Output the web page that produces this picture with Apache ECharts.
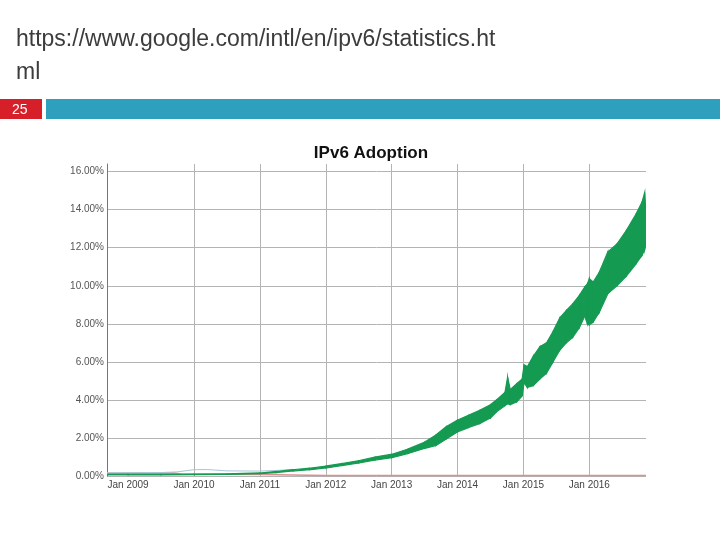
<!DOCTYPE html>
<html>
<head>
<meta charset="utf-8">
<script src="https://cdn.jsdelivr.net/npm/echarts@6/dist/echarts.min.js"></script>
<style>
html,body{margin:0;padding:0;background:#fff;}
#chart{width:720px;height:540px;}
</style>
</head>
<body>
<div id="chart"></div>
<script>
// ---- data (decimal years, percent) ----
var nativeYears = [2008.68, 2009.00, 2009.50, 2010.00, 2010.50, 2011.00, 2011.25, 2011.50, 2011.75, 2012.00,
  2012.25, 2012.50, 2012.75, 2013.00, 2013.25, 2013.50, 2013.67, 2013.83, 2014.00, 2014.17,
  2014.34, 2014.50, 2014.59, 2014.72, 2014.76, 2014.80, 2014.90, 2014.98, 2015.01, 2015.06,
  2015.15, 2015.25, 2015.35, 2015.45, 2015.55, 2015.65, 2015.75, 2015.85, 2015.93, 2015.97,
  2016.00, 2016.06, 2016.15, 2016.28, 2016.42, 2016.56, 2016.71, 2016.80, 2016.84, 2016.86];
var nativeLow = [0.06, 0.06, 0.06, 0.07, 0.08, 0.12, 0.18, 0.26, 0.33, 0.42,
  0.55, 0.68, 0.84, 0.96, 1.18, 1.45, 1.60, 1.95, 2.32, 2.55,
  2.76, 3.05, 3.37, 3.70, 3.80, 3.75, 3.90, 4.20, 4.90, 4.65,
  4.75, 5.10, 5.40, 6.00, 6.60, 7.00, 7.30, 7.80, 8.40, 8.00,
  7.95, 8.10, 8.60, 9.58, 10.00, 10.50, 11.16, 11.60, 11.90, 12.20];
var nativeHigh = [0.09, 0.09, 0.09, 0.10, 0.11, 0.16, 0.24, 0.33, 0.41, 0.52,
  0.66, 0.80, 1.00, 1.14, 1.42, 1.78, 2.15, 2.60, 2.94, 3.20,
  3.46, 3.75, 3.99, 4.40, 5.20, 4.55, 4.86, 5.10, 5.85, 5.75,
  6.30, 6.80, 7.00, 7.60, 8.30, 8.70, 9.06, 9.50, 9.93, 10.10,
  10.37, 10.20, 10.70, 11.77, 12.20, 12.90, 13.78, 14.40, 14.90, 13.80];

var totalYears = [2008.68, 2009.50, 2009.75, 2010.00, 2010.20, 2010.50, 2011.00, 2011.30, 2011.50];
var totalPct   = [0.17, 0.18, 0.22, 0.33, 0.34, 0.27, 0.26, 0.30, 0.35];

var teredoYears = [2008.68, 2009.70, 2009.80, 2011.00, 2011.50, 2012.00, 2016.86];
var teredoPct   = [0.15, 0.16, 0.10, 0.08, 0.05, 0.02, 0.02];

var yTicks = [0, 2, 4, 6, 8, 10, 12, 14, 16];
var xLabelYears = [2009, 2010, 2011, 2012, 2013, 2014, 2015, 2016];
var xGridYears = [2010, 2011, 2012, 2013, 2014, 2015, 2016];

// ---- build series data ----
function pairs(xs, ys) { return xs.map(function (x, i) { return [x, ys[i]]; }); }
var bandData = nativeYears.map(function (x, i) { return [x, nativeLow[i], nativeHigh[i]]; });

var GREEN = '#159a52';

function renderBand(params, api) {
  var i = params.dataIndex;
  if (i >= nativeYears.length - 1) return null;
  var a = bandData[i], b = bandData[i + 1];
  var pts = [
    api.coord([a[0], a[1]]),
    api.coord([a[0], a[2]]),
    api.coord([b[0], b[2]]),
    api.coord([b[0], b[1]])
  ];
  return {
    type: 'polygon',
    shape: {points: pts},
    style: {fill: GREEN, stroke: GREEN, lineWidth: 1.2}
  };
}

var chart = echarts.init(document.getElementById('chart'), null, {renderer: 'canvas'});
chart.setOption({
  animation: false,
  backgroundColor: '#ffffff',
  title: {
    text: 'IPv6 Adoption',
    left: 366, top: 140, textAlign: 'center',
    textStyle: {fontFamily: 'Liberation Sans, Arial, sans-serif', fontSize: 17, fontWeight: 'bold', color: '#111'}
  },
  graphic: [
    {type: 'text', left: 16, top: 28, style: {text: 'https://www.google.com/intl/en/ipv6/statistics.ht', font: '23px "Liberation Sans", Arial, sans-serif', fill: '#3c3c3c'}},
    {type: 'text', left: 16, top: 61, style: {text: 'ml', font: '23px "Liberation Sans", Arial, sans-serif', fill: '#3c3c3c'}},
    {type: 'rect', shape: {x: 0, y: 99, width: 42, height: 20}, style: {fill: '#d71f29'}},
    {type: 'rect', shape: {x: 46, y: 99, width: 674, height: 20}, style: {fill: '#2ea0be'}},
    {type: 'text', left: 12, top: 103, style: {text: '25', font: '14px "Liberation Sans", Arial, sans-serif', fill: '#ffffff'}}
  ],
  grid: {left: 107, right: 74, top: 164, bottom: 64, containLabel: false},
  xAxis: {
    type: 'value', min: 2008.68, max: 2016.86,
    axisLine: {show: false},
    axisTick: {show: false, customValues: xGridYears},
    splitLine: {show: true, lineStyle: {color: '#b4b4b4', width: 1}},
    axisLabel: {
      customValues: xLabelYears, margin: 4,
      formatter: function (v) { return 'Jan ' + v; },
      fontFamily: 'Liberation Sans, Arial, sans-serif', fontSize: 10, color: '#444'
    }
  },
  yAxis: {
    type: 'value', min: 0, max: 16.4,
    axisLine: {show: true, lineStyle: {color: '#777', width: 1}},
    axisTick: {show: false, customValues: yTicks},
    splitLine: {show: true, lineStyle: {color: '#b4b4b4', width: 1}},
    axisLabel: {
      customValues: yTicks, margin: 3,
      formatter: function (v) { return v.toFixed(2) + '%'; },
      fontFamily: 'Liberation Sans, Arial, sans-serif', fontSize: 10, color: '#555'
    }
  },
  series: [
    {name: '6to4/Teredo', type: 'line', data: pairs(teredoYears, teredoPct), showSymbol: false, symbol: 'none',
     lineStyle: {color: '#dc8f8f', width: 1.5}, z: 2},
    {name: 'Total', type: 'line', data: pairs(totalYears, totalPct), showSymbol: false, symbol: 'none',
     lineStyle: {color: '#a6c6d8', width: 1}, z: 3},
    {name: 'Native', type: 'custom', renderItem: renderBand, data: bandData,
     encode: {x: 0, y: [1, 2]}, clip: true, z: 4}
  ]
});
</script>
</body>
</html>
